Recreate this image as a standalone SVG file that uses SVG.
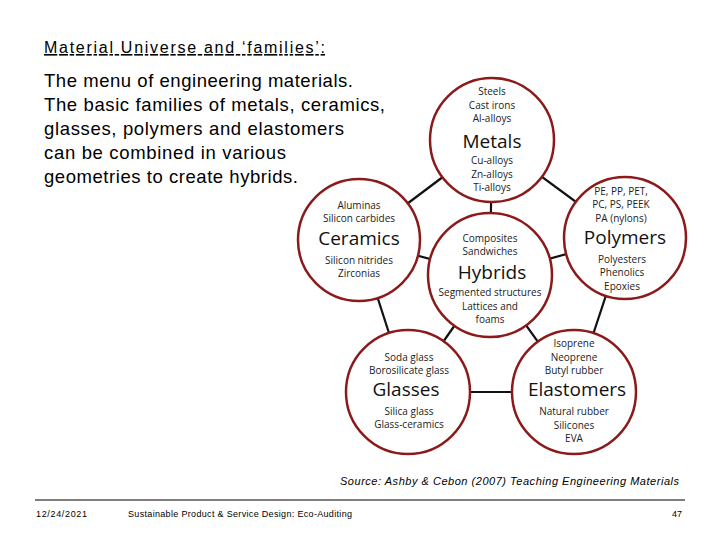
<svg xmlns="http://www.w3.org/2000/svg" width="720" height="540" viewBox="0 0 720 540">
<style>
.t{font-family:"Liberation Sans",Arial,sans-serif;fill:#000}
.c{fill:#fff;stroke:#8b1a1a;stroke-width:2.5}
.s{font-family:"Open Sans","DejaVu Sans",sans-serif;font-size:10px;text-anchor:middle;fill:#222}
.b{font-family:"Open Sans","DejaVu Sans",sans-serif;font-size:19px;text-anchor:middle;fill:#111}
</style>
<rect width="720" height="540" fill="#fff"/>
<text class="t" x="44" y="53" font-size="16" text-decoration="underline" textLength="281" lengthAdjust="spacing">Material Universe and ‘families’:</text>
<g class="t" font-size="18.5">
<text x="44" y="87" textLength="309" lengthAdjust="spacing">The menu of engineering materials.</text>
<text x="44" y="111" textLength="341" lengthAdjust="spacing">The basic families of metals, ceramics,</text>
<text x="44" y="135" textLength="300" lengthAdjust="spacing">glasses, polymers and elastomers</text>
<text x="44" y="159" textLength="242" lengthAdjust="spacing">can be combined in various</text>
<text x="44" y="183" textLength="254" lengthAdjust="spacing">geometries to create hybrids.</text>
</g>
<g id="connectors" stroke="#111" stroke-width="2.2">
<line x1="492" y1="140" x2="359" y2="240"/><line x1="492" y1="140" x2="625" y2="238"/><line x1="492" y1="140" x2="490" y2="275"/>
<line x1="359" y1="240" x2="490" y2="275"/><line x1="625" y1="238" x2="490" y2="275"/>
<line x1="359" y1="240" x2="408" y2="392"/><line x1="625" y1="238" x2="574" y2="392"/>
<line x1="490" y1="275" x2="408" y2="392"/><line x1="490" y1="275" x2="574" y2="392"/><line x1="408" y1="392" x2="574" y2="392"/>
</g>
<g id="metals"><circle class="c" cx="492" cy="140" r="62"/>
<text class="s"><tspan x="492" y="95">Steels</tspan><tspan x="492" y="109">Cast irons</tspan><tspan x="492" y="122">Al-alloys</tspan><tspan x="492" y="164">Cu-alloys</tspan><tspan x="492" y="178">Zn-alloys</tspan><tspan x="492" y="191">Ti-alloys</tspan></text>
<text class="b" x="492" y="148">Metals</text></g>
<g id="ceramics"><circle class="c" cx="359" cy="240" r="61"/>
<text class="s"><tspan x="359" y="209">Aluminas</tspan><tspan x="359" y="222">Silicon carbides</tspan><tspan x="359" y="264">Silicon nitrides</tspan><tspan x="359" y="277">Zirconias</tspan></text>
<text class="b" x="359" y="245">Ceramics</text></g>
<g id="polymers"><circle class="c" cx="625" cy="238" r="61"/>
<text class="s"><tspan x="621" y="195">PE, PP, PET,</tspan><tspan x="621" y="208">PC,  PS, PEEK</tspan><tspan x="621" y="222">PA (nylons)</tspan><tspan x="622" y="263">Polyesters</tspan><tspan x="622" y="276">Phenolics</tspan><tspan x="622" y="290">Epoxies</tspan></text>
<text class="b" x="625" y="244">Polymers</text></g>
<g id="hybrids"><circle class="c" cx="490" cy="275" r="62"/>
<text class="s"><tspan x="490" y="242">Composites</tspan><tspan x="490" y="255">Sandwiches</tspan><tspan x="490" y="296">Segmented structures</tspan><tspan x="490" y="310">Lattices and</tspan><tspan x="490" y="323">foams</tspan></text>
<text class="b" x="492" y="279">Hybrids</text></g>
<g id="glasses"><circle class="c" cx="408" cy="392" r="62"/>
<text class="s"><tspan x="409" y="361">Soda glass</tspan><tspan x="409" y="374">Borosilicate glass</tspan><tspan x="409" y="415">Silica glass</tspan><tspan x="409" y="428">Glass-ceramics</tspan></text>
<text class="b" x="406" y="396">Glasses</text></g>
<g id="elastomers"><circle class="c" cx="574" cy="392" r="62"/>
<text class="s"><tspan x="574" y="347">Isoprene</tspan><tspan x="574" y="361">Neoprene</tspan><tspan x="574" y="374">Butyl rubber</tspan><tspan x="574" y="415">Natural rubber</tspan><tspan x="574" y="429">Silicones</tspan><tspan x="574" y="442">EVA</tspan></text>
<text class="b" x="577" y="396">Elastomers</text></g>
<text class="t" x="340" y="485" font-size="11" font-style="italic" textLength="339" lengthAdjust="spacing">Source: Ashby &amp; Cebon (2007) Teaching Engineering Materials</text>
<line x1="35" y1="500" x2="685" y2="500" stroke="#000" stroke-width="1"/>
<text class="t" x="36" y="517" font-size="9" textLength="51" lengthAdjust="spacing">12/24/2021</text>
<text class="t" x="128" y="517" font-size="9" textLength="224" lengthAdjust="spacing">Sustainable Product &amp; Service Design: Eco-Auditing</text>
<text class="t" x="682" y="517" font-size="9" text-anchor="end">47</text>
</svg>
